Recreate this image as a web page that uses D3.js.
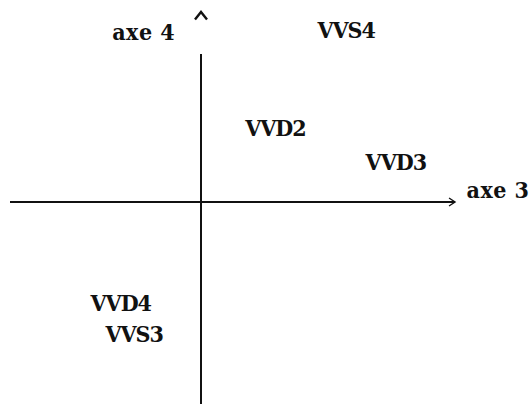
<!DOCTYPE html>
<html>
<head>
<meta charset="utf-8">
<script src="https://cdn.jsdelivr.net/npm/d3@7"></script>
<style>
  body { margin: 0; background: #fff; }
  text { font-family: "DejaVu Serif Condensed", "DejaVu Serif", serif; font-weight: bold; fill: #111; letter-spacing: -1px; }
  text.title { letter-spacing: 0.5px; }
</style>
</head>
<body>
<svg id="chart" width="529" height="404"></svg>
<script>
// Point labels and their coordinates on axes 3 and 4.
const names = ["VVS4", "VVD2", "VVD3", "VVD4", "VVS3"];
const axe3 = [0.76, 0.39, 1.02, -0.42, -0.35];
const axe4 = [0.90, 0.39, 0.21, -0.53, -0.69];

const svg = d3.select("#chart");

// Scales centred on the origin of the factor plane.
const x = d3.scaleLinear().domain([-1, 1]).range([10, 392]);
const y = d3.scaleLinear().domain([-1, 1]).range([393, 11]);

// Horizontal axis (axe 3) with small arrowhead.
const xEnd = x(1.33);
svg.append("line")
  .attr("x1", x(-1)).attr("x2", xEnd)
  .attr("y1", y(0)).attr("y2", y(0))
  .attr("stroke", "#111").attr("stroke-width", 2);
svg.append("path")
  .attr("d", `M${xEnd - 6},${y(0) - 4} L${xEnd},${y(0)} L${xEnd - 6},${y(0) + 4}`)
  .attr("fill", "none").attr("stroke", "#111").attr("stroke-width", 1.4);

// Vertical axis (axe 4) with caret above.
svg.append("line")
  .attr("x1", x(0)).attr("x2", x(0))
  .attr("y1", y(0.775)).attr("y2", y(-1.06))
  .attr("stroke", "#111").attr("stroke-width", 2);
svg.append("path")
  .attr("d", `M${x(0) - 6},${y(0.955)} L${x(0)},${y(0.995)} L${x(0) + 6},${y(0.955)}`)
  .attr("fill", "none").attr("stroke", "#111").attr("stroke-width", 2.4);

// Axis titles.
svg.append("text").attr("class", "title").attr("x", x(-0.3)).attr("y", y(0.89)).attr("dy", "0.35em")
  .attr("text-anchor", "middle").attr("font-size", 23).text("axe 4");
svg.append("text").attr("class", "title").attr("x", x(1.555)).attr("y", y(0.065)).attr("dy", "0.35em")
  .attr("text-anchor", "middle").attr("font-size", 23).text("axe 3");

// Point labels.
svg.selectAll("text.pt")
  .data(names)
  .enter()
  .append("text")
  .attr("class", "pt")
  .attr("x", (d, i) => x(axe3[i]))
  .attr("y", (d, i) => y(axe4[i]))
  .attr("dy", "0.35em")
  .attr("text-anchor", "middle")
  .attr("font-size", 23)
  .text(d => d);
</script>
</body>
</html>
